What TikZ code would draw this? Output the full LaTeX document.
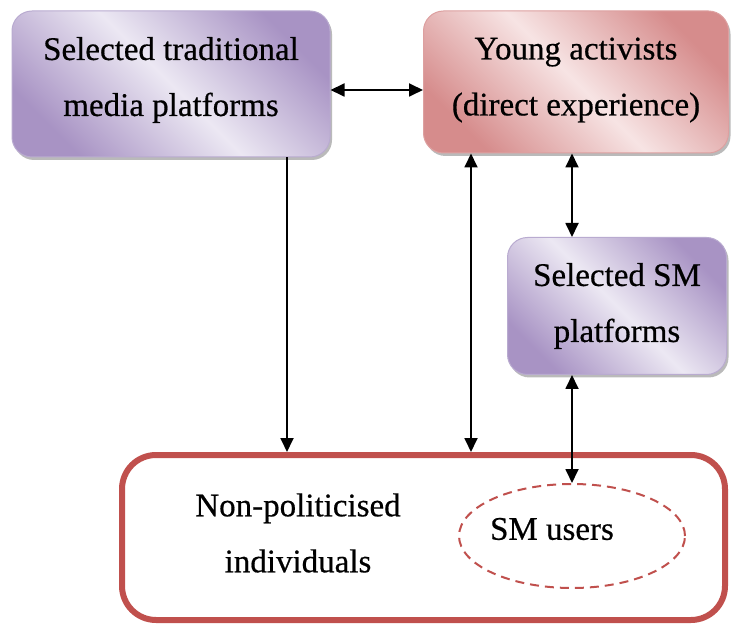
\documentclass[tikz,border=0pt]{standalone}
\usepackage{fontspec}
\setmainfont[FakeBold=0.5]{Liberation Serif}
\usetikzlibrary{arrows.meta,shapes.geometric,shadows}
\definecolor{purpD}{HTML}{A893C4}
\definecolor{purpL}{HTML}{ECE8F3}
\definecolor{purpE}{HTML}{B9ABD0}
\definecolor{pinkD}{HTML}{D68C8C}
\definecolor{pinkL}{HTML}{F7E4E4}
\definecolor{pinkE}{HTML}{DDA0A0}
\definecolor{redB}{HTML}{C0504D}
\tikzset{
  boxshadow/.style={drop shadow={shadow xshift=2pt,shadow yshift=-3pt,fill=black!45,opacity=0.6}},
  boxtext/.style={align=center,font=\fontsize{33}{56}\selectfont,inner sep=0pt},
  purplebox/.style={rectangle,rounded corners=20pt,draw=purpE,line width=1pt,
    shading=axis,top color=purpD,bottom color=purpD,middle color=purpL,shading angle=-45,
    boxshadow,boxtext},
  pinkbox/.style={rectangle,rounded corners=20pt,draw=pinkE,line width=1pt,
    shading=axis,top color=pinkD,bottom color=pinkD,middle color=pinkL,shading angle=-45,
    boxshadow,boxtext},
  bigbox/.style={rectangle,rounded corners=34pt,draw=redB,line width=6pt},
  smell/.style={ellipse,draw=redB,line width=2pt,dash pattern=on 9pt off 6pt},
  txt/.style={boxtext},
  arr/.style={line width=1.8pt,-{Triangle[length=14pt,width=13pt]}},
  darr/.style={line width=1.8pt,{Triangle[length=14pt,width=13pt]}-{Triangle[length=14pt,width=13pt]}}
}
\begin{document}
\begin{tikzpicture}[x=1pt,y=-1pt]
\useasboundingbox (0,0) rectangle (734,628);
\node[purplebox,minimum width=318pt,minimum height=146pt,text depth=15pt] (A) at (171,84) {Selected traditional\\media platforms};
\node[pinkbox,minimum width=305pt,minimum height=142pt,text depth=11pt] (B) at (576,82) {Young activists\\(direct experience)};
\node[purplebox,minimum width=219pt,minimum height=137pt] (C) at (617,306) {Selected SM\\platforms};
\node[bigbox,minimum width=603pt,minimum height=165pt] (D) at (423.5,537.5) {};
\node[txt] (T) at (298,533) {Non-politicised\\individuals};
\node[smell,minimum width=226pt,minimum height=104pt] (E) at (572,536) {};
\node[txt] (U) at (552,529) {SM users};
\coordinate (xa) at (287,0);
\coordinate (xb) at (471,0);
\coordinate (xc) at (572,0);
\coordinate (ya) at (0,90);
\draw[darr] (A.east |- ya) -- (B.west |- ya);
\draw[arr] (A.south -| xa) -- (D.north -| xa);
\draw[darr] (B.south -| xb) -- (D.north -| xb);
\draw[darr] (B.south -| xc) -- (C.north -| xc);
\draw[darr] (C.south -| xc) -- (E.north);
\end{tikzpicture}
\end{document}
